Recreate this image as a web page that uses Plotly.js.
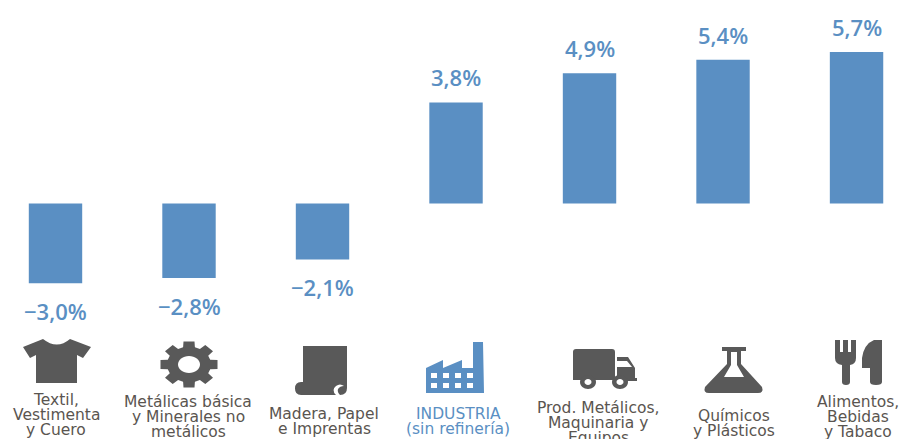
<!DOCTYPE html>
<html><head><meta charset="utf-8">
<script src="https://cdn.plot.ly/plotly-3.0.1.min.js"></script>
<style>html,body{margin:0;padding:0;background:#fff;overflow:hidden}#c{width:907px;height:439px}</style>
</head><body><div id="c"></div>
<script>
const categories = ['Textil','Metálicas','Madera','Industria','Prod. Metálicos','Químicos','Alimentos'];
const values = [-3.0,-2.8,-2.1,3.8,4.9,5.4,5.7];
const valueLabels = ['−3,0%','−2,8%','−2,1%','3,8%','4,9%','5,4%','5,7%'];
const tickLabels = [
 ['Textil,','Vestimenta','y Cuero'],
 ['Metálicas básica','y Minerales no','metálicos'],
 ['Madera, Papel','e Imprentas'],
 ['INDUSTRIA','(sin refinería)'],
 ['Prod. Metálicos,','Maquinaria y','Equipos'],
 ['Químicos','y Plásticos'],
 ['Alimentos,','Bebidas','y Tabaco']
];
const labelFirstLine = [400,401.5,413.5,414,408,415.5,402];
const labelX = [56,188,324,458,598,734,858];
const blue = '#5a8fc3', grey = '#595959';

function ellipse(cx,cy,rx,ry){
  const k=0.5523;
  return 'M'+(cx-rx)+','+cy+
   ' C'+(cx-rx)+','+(cy-ry*k)+' '+(cx-rx*k)+','+(cy-ry)+' '+cx+','+(cy-ry)+
   ' C'+(cx+rx*k)+','+(cy-ry)+' '+(cx+rx)+','+(cy-ry*k)+' '+(cx+rx)+','+cy+
   ' C'+(cx+rx)+','+(cy+ry*k)+' '+(cx+rx*k)+','+(cy+ry)+' '+cx+','+(cy+ry)+
   ' C'+(cx-rx*k)+','+(cy+ry)+' '+(cx-rx)+','+(cy+ry*k)+' '+(cx-rx)+','+cy+' Z';
}
function gear(cx,cy){
  let d='';
  const n=8;
  for(let i=0;i<n;i++){
    const a=i*2*Math.PI/n-Math.PI/2, w=0.19, g=0.27;
    const pts=[[0.76,a-g],[1,a-w],[1,a+w],[0.76,a+g]];
    pts.forEach((p,j)=>{
      d+=(i===0&&j===0?'M':'L')+(cx+29*p[0]*Math.cos(p[1])).toFixed(1)+','+(cy+23.5*p[0]*Math.sin(p[1])).toFixed(1);
    });
  }
  return d+'Z';
}
function box(x0,y0,x1,y1){return 'M'+x0+','+y0+' H'+x1+' V'+y1+' H'+x0+' Z';}

const windows=[431,443,455,467].map(x=>box(x,373,x+6,378)+' '+box(x,383,x+6,388)).join(' ');
const iconDark=[
 'M43,339 Q57,350 70,339 L91,347 L83,358 L77,355 V383 H36 V355 L30,358 L23,347 Z',
 gear(189,364.5),
 'M303,346 H347 V388 Q347,395 340,395 H301 Q295,395 295,388.5 Q295,382 301,382 H303 Z',
 'M573,352 Q573,349 576,349 H612 Q615,349 615,352 V380 H573 Z M617,357 H628 L635,368 V378 H637 V381 H617 Z',
 ellipse(588,382,8,7), ellipse(620,382,8,7),
 'M722,347 H746 V351 H741 V364 L762,387 Q764,393 758,393 H709 Q703,393 705,387 L727,364 V351 H722 Z',
 'M835,340 H840 V352 H843 V340 H848 V352 H851 V340 H856 V358 Q856,364 850,365 V382 Q850,385 846,385 Q842,385 842,382 V365 Q835,364 835,358 Z',
 'M882,340 V382 Q882,385 876,385 Q870,385 870,382 V368 H862 V358 Q864,344 874,340 Z'
];
const iconWhite=[
 ellipse(189,364.5,11,8.5),
 'M731,352 H737 V365 L744,377 H724 L731,365 Z',
 'M617,361 H627 L632,367 H617 Z',
 ellipse(588,382,3.5,3), ellipse(620,382,3.5,3),
 'M336,395 Q331,390 336,386 Q340,383 344,386 Q340,386 338,389 Q337,392 340,395 Z'
];
const pathShape=(d,c)=>({type:'path',xref:'x2',yref:'y2',path:d,fillcolor:c,line:{width:0},layer:'above'});
const shapes=[
 ...iconDark.map(d=>pathShape(d,grey)),
 pathShape('M426,368 L443,360 V368 L462,360 V368 H473 V342 H483 L484,393 H426 Z '+windows,blue),
 ...iconWhite.map(d=>pathShape(d,'#ffffff'))
];

const annotations=[];
values.forEach((v,i)=>{
  annotations.push({x:i,y:v,xref:'x',yref:'y',text:valueLabels[i],showarrow:false,
    yshift:v<0?-28:25,xanchor:'center',yanchor:'middle',
    font:{family:'"Open Sans", sans-serif',size:22,color:blue,weight:600}});
  tickLabels[i].forEach((line,j)=>{
    annotations.push({x:labelX[i],y:labelFirstLine[i]+j*15,xref:'x2',yref:'y2',text:line,showarrow:false,
      xanchor:'center',yanchor:'middle',align:'center',
      font:{family:'"DejaVu Sans", sans-serif',size:15.5,color:i===3?blue:'#5a5550'}});
  });
});

Plotly.newPlot('c',[{
  type:'bar',x:categories.map((c,i)=>i),y:values,width:0.4,
  customdata:categories,marker:{color:blue,line:{width:0}},hoverinfo:'y'
}],{
  width:907,height:439,margin:{l:0,r:0,t:0,b:0},
  paper_bgcolor:'#fff',plot_bgcolor:'#fff',showlegend:false,
  xaxis:{range:[-0.4157,6.378],visible:false,fixedrange:true},
  yaxis:{range:[-8.85,7.65],visible:false,fixedrange:true,zeroline:false},
  xaxis2:{range:[0,907],visible:false,overlaying:'x',fixedrange:true},
  yaxis2:{range:[439,0],visible:false,overlaying:'y',fixedrange:true},
  shapes:shapes,annotations:annotations
},{displayModeBar:false,staticPlot:true});
</script></body></html>
